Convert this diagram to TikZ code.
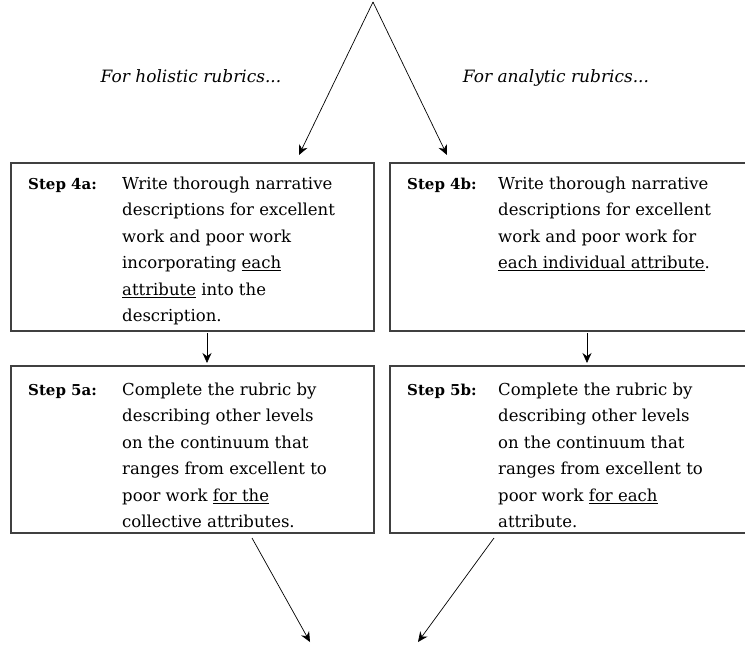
\documentclass[tikz,border=0pt]{standalone}
\usepackage{fontspec}
\setmainfont{DejaVu Serif}
\usetikzlibrary{arrows.meta,calc}
\begin{document}
\begin{tikzpicture}[x=1pt,y=-1pt,
  stepbox/.style={draw=black!75, line width=1.7pt, anchor=north west, inner sep=0pt, minimum width=363pt},
  steplbl/.style={font=\bfseries\fontsize{15}{15}\selectfont, anchor=base west, inner sep=0pt},
  stepbody/.style={font=\fontsize{16.5}{26.5}\selectfont, anchor=north west, align=left, inner sep=0pt},
  branch/.style={font=\itshape\fontsize{17}{17}\selectfont, anchor=base, inner sep=0pt},
  arr/.style={-{Stealth[length=10pt,width=9pt]}, line width=0.7pt, black}]
\useasboundingbox (0,0) rectangle (745,645);
% boxes
\node[stepbox, minimum height=168pt] (b4a) at (10,162) {};
\node[stepbox, minimum height=168pt, minimum width=357pt] (b4b) at (389,162) {};
\node[stepbox, minimum height=167pt] (b5a) at (10,365) {};
\node[stepbox, minimum height=167pt, minimum width=357pt] (b5b) at (389,365) {};
% labels
\node[steplbl] (l4a) at (28,189) {Step 4a:};
\node[steplbl] (l4b) at (407,189) {Step 4b:};
\node[steplbl] (l5a) at (28,395) {Step 5a:};
\node[steplbl] (l5b) at (407,395) {Step 5b:};
% bodies (top = first baseline - ascender)
\node[stepbody] (t4a) at (122,176.5) {Write thorough narrative\\descriptions for excellent\\work and poor work\\incorporating \underline{each}\\\underline{attribute} into the\\description.};
\node[stepbody] (t4b) at (498,176.5) {Write thorough narrative\\descriptions for excellent\\work and poor work for\\\underline{each individual attribute}.};
\node[stepbody] (t5a) at (122,382.5) {Complete the rubric by\\describing other levels\\on the continuum that\\ranges from excellent to\\poor work \underline{for the}\\collective attributes.};
\node[stepbody] (t5b) at (498,382.5) {Complete the rubric by\\describing other levels\\on the continuum that\\ranges from excellent to\\poor work \underline{for each}\\attribute.};
% branch labels
\node[branch] (hol) at (191,82) {For holistic rubrics...};
\node[branch] (ana) at (556,82) {For analytic rubrics...};
% connectors
\coordinate (apex) at (373,2);
\coordinate (tipL) at (299,155);
\coordinate (tipR) at (447,155);
\draw[arr] (apex) -- (tipL);
\draw[arr] (apex) -- (tipR);
\coordinate (s4a) at (207,333);
\coordinate (e4a) at (207,363);
\coordinate (s4b) at (587,333);
\coordinate (e4b) at (587,363);
\draw[arr] (s4a) -- (e4a);
\draw[arr] (s4b) -- (e4b);
\coordinate (s5a) at (252,538);
\coordinate (e5a) at (310,642);
\coordinate (s5b) at (494,538);
\coordinate (e5b) at (418,642);
\draw[arr] (s5a) -- (e5a);
\draw[arr] (s5b) -- (e5b);
\end{tikzpicture}
\end{document}
